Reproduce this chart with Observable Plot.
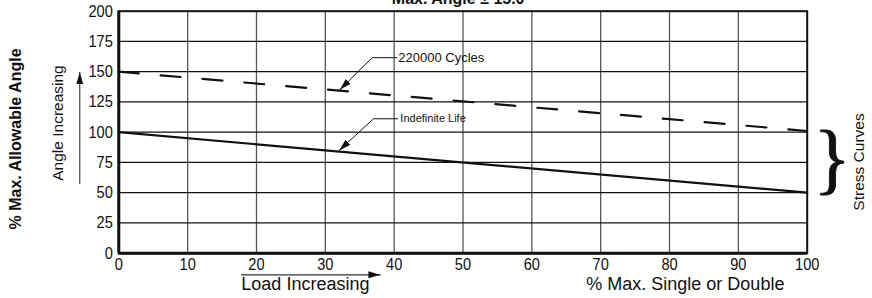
<!DOCTYPE html>
<html>
<head>
<meta charset="utf-8">
<script src="https://cdn.jsdelivr.net/npm/d3@7"></script>
<script src="https://cdn.jsdelivr.net/npm/@observablehq/plot@0.6"></script>
<style>
  html, body { margin: 0; padding: 0; background: #fff; }
</style>
</head>
<body>
<div id="chart"></div>
<script>
// ---- data ----
const xTicks = [0, 10, 20, 30, 40, 50, 60, 70, 80, 90, 100];
const yTicks = [0, 25, 50, 75, 100, 125, 150, 175, 200];
const loadPct = [0, 100];
const indefiniteLife = [100, 50];
const cycles220000 = [150, 101];

// annotation anchors (data units)
const cyclesLabel = {text: "220000 Cycles", x: 40.6, y: 161.6};
const cyclesLeader = [[40.4, 161.6], [36.8, 161.6], [32.1, 135.0]];
const lifeLabel = {text: "Indefinite Life", x: 40.9, y: 111.1};
const lifeLeader = [[40.5, 111.1], [37.0, 111.1], [32.0, 84.9]];
const loadArrow = [[17.8, -17.9], [38.0, -17.9]];
const angleArrow = [[-5.67, 57.6], [-5.67, 149.6]];
const title = {text: "Max. Angle \u00b1 15.0", x: 49.3, y: 206};
const xNote = {text: "Load Increasing", x: 17.8, y: -25.7};
const xLabel = {text: "% Max. Single or Double", x: 82.3, y: -25.7};
const yLabel = {text: "% Max. Allowable Angle", x: -14.9, y: 94.4};
const yNote = {text: "Angle Increasing", x: -8.76, y: 107.6};
const rightNote = {text: "Stress Curves", x: 107.6, y: 75.4};
const brace = {text: "}", x: 100.9, y: 76.8};

const rows = (ys) => loadPct.map((x, i) => ({x, y: ys[i]}));
const pts = (arr) => arr.map(([x, y]) => ({x, y}));

const SANS = "'Liberation Sans', Arial, Helvetica, sans-serif";

const chart = Plot.plot({
  width: 872,
  height: 298,
  marginTop: 10.7,
  marginBottom: 45.3,
  marginLeft: 118.3,
  marginRight: 65.3,
  style: {fontFamily: SANS, fontSize: "17px", color: "#111", background: "#fff"},
  x: {domain: [0, 100], ticks: xTicks, tickSize: 0, tickPadding: 5, label: null},
  y: {domain: [0, 200], ticks: yTicks, tickSize: 0, tickPadding: 6, label: null},
  marks: [
    Plot.ruleX(xTicks.slice(1, -1), {stroke: "#555", strokeWidth: 1.3}),
    Plot.ruleY(yTicks.slice(1, -1), {stroke: "#111", strokeWidth: 1.3}),
    Plot.frame({stroke: "#111", strokeWidth: 2}),
    Plot.ruleX([xTicks[0]], {stroke: "#111", strokeWidth: 3}),
    Plot.ruleY([yTicks[0]], {stroke: "#111", strokeWidth: 3}),
    // curves
    Plot.line(rows(cycles220000), {x: "x", y: "y", stroke: "#111", strokeWidth: 2.2, strokeDasharray: "20,22"}),
    Plot.line(rows(indefiniteLife), {x: "x", y: "y", stroke: "#111", strokeWidth: 2.2}),
    // leaders & arrows
    Plot.line(pts(cyclesLeader), {x: "x", y: "y", stroke: "#111", strokeWidth: 1, markerEnd: "arrow"}),
    Plot.line(pts(lifeLeader), {x: "x", y: "y", stroke: "#111", strokeWidth: 1, markerEnd: "arrow"}),
    Plot.line(pts(loadArrow), {x: "x", y: "y", stroke: "#333", strokeWidth: 1.1, markerEnd: "arrow"}),
    Plot.line(pts(angleArrow), {x: "x", y: "y", stroke: "#333", strokeWidth: 1.1, markerEnd: "arrow"}),
    // texts
    Plot.text([cyclesLabel], {x: "x", y: "y", text: "text", textAnchor: "start", lineAnchor: "middle", fontSize: 13, fill: "#111"}),
    Plot.text([lifeLabel], {x: "x", y: "y", text: "text", textAnchor: "start", lineAnchor: "middle", fontSize: 11, fill: "#111"}),
    Plot.text([title], {x: "x", y: "y", text: "text", textAnchor: "middle", lineAnchor: "bottom", fontWeight: "bold", fontSize: 16, fill: "#111"}),
    Plot.text([xNote], {x: "x", y: "y", text: "text", textAnchor: "start", lineAnchor: "middle", fontSize: 18, fill: "#111", ariaLabel: "narrow-note"}),
    Plot.text([xLabel], {x: "x", y: "y", text: "text", textAnchor: "middle", lineAnchor: "middle", fontSize: 18, fill: "#111", ariaLabel: "narrow-note"}),
    Plot.text([yLabel], {x: "x", y: "y", text: "text", rotate: -90, textAnchor: "middle", lineAnchor: "middle", fontWeight: "bold", fontSize: 16, fill: "#111"}),
    Plot.text([yNote], {x: "x", y: "y", text: "text", rotate: -90, textAnchor: "middle", lineAnchor: "middle", fontSize: 15.5, fill: "#111"}),
    Plot.text([rightNote], {x: "x", y: "y", text: "text", rotate: -90, textAnchor: "middle", lineAnchor: "middle", fontSize: 15.5, fill: "#111"}),
    Plot.text([brace], {x: "x", y: "y", text: "text", textAnchor: "start", lineAnchor: "middle", fontFamily: "'Liberation Serif', 'Times New Roman', serif", fontSize: 78, fill: "#111", stroke: "#111", strokeWidth: 0.8})
  ]
});

// filled arrowheads
d3.select(chart).selectAll("marker")
  .attr("viewBox", "-12 -4 12 8")
  .attr("refX", 0).attr("refY", 0)
  .attr("markerUnits", "userSpaceOnUse")
  .attr("markerWidth", 12).attr("markerHeight", 8)
  .selectAll("path")
  .attr("d", "M-12,-3.5L0,0L-12,3.5Z")
  .attr("fill", "#111")
  .attr("stroke", "none");

document.getElementById("chart").appendChild(chart);

// condense axis tick labels and the bottom notes (condensed face look)
function condense(sel, k) {
  sel.each(function () {
    const L = this.getComputedTextLength();
    if (L > 0) {
      this.setAttribute("textLength", (L * k).toFixed(2));
      this.setAttribute("lengthAdjust", "spacingAndGlyphs");
    }
  });
}
const svg = d3.select(chart);
condense(svg.selectAll('g[aria-label^="x-axis"] text, g[aria-label^="y-axis"] text'), 0.86);
condense(svg.selectAll('g[aria-label="narrow-note"] text'), 0.9);
</script>
</body>
</html>
